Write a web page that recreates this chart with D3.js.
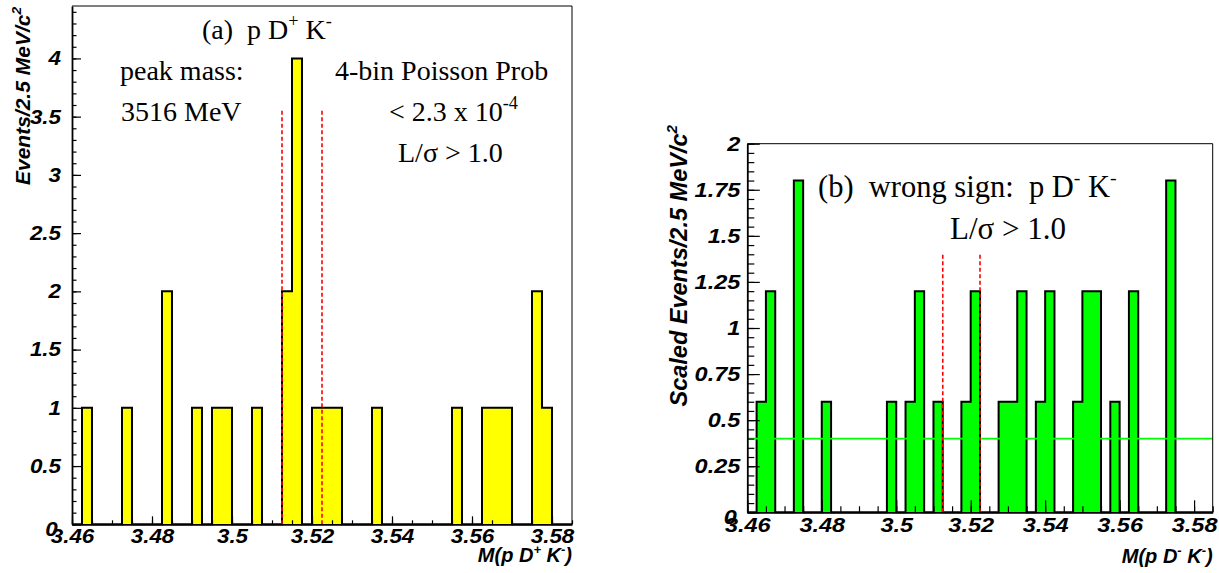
<!DOCTYPE html>
<html><head><meta charset="utf-8">
<script src="https://cdn.jsdelivr.net/npm/d3@7"></script>
<style>
body{margin:0;background:#fff}
svg{display:block}
text{white-space:pre}
</style>
</head><body>
<svg id="c" width="1219" height="573"></svg>
<script>
// ---------------- data ----------------
const binStart = 3.46;
const binWidth = 0.0025;
// (a) right sign p D+ K-  : events per 2.5 MeV bin (50 bins from 3.46)
const countsA = [0,1,0,0,0,1,0,0,0,2, 0,0,1,0,1,1,0,0,1,0,
                 0,2,4,0,1,1,1,0,0,0, 1,0,0,0,0,0,0,0,1,0,
                 0,1,1,1,0,0,2,1,0,0];
// (b) wrong sign p D- K- : scaled events per bin
const countsB = [0,0.6,1.2,0,0,1.8,0,0,0.6,0, 0,0,0,0,0,0.6,0,0.6,1.2,0,
                 0.6,0,0,0.6,1.2,0,0,0.6,0.6,1.2, 0,0.6,1.2,0,0,0.6,1.2,1.2,0,0.6,
                 0,1.2,0,0,0,1.8,0,0,0,0];
const xTickLabels = [3.46,3.48,3.5,3.52,3.54,3.56,3.58];
const yTickLabelsA = [0,0.5,1,1.5,2,2.5,3,3.5,4];
const yTickLabelsB = [0,0.25,0.5,0.75,1,1.25,1.5,1.75,2];
const signalWindow = [3.5125, 3.5225];
const windowTopA = 3.55;
const windowTopB = 1.4;
const backgroundLevelB = 0.4;

const svg = d3.select("#c");
const nBins = countsA.length;
const xMax = binStart + nBins * binWidth;
const labelStretch = 1.12;

function rich(g, x, y, parts, opts) {
  const t = g.append("text").attr("x", x).attr("y", y)
    .attr("font-family", opts.family).attr("font-size", opts.size)
    .attr("font-weight", opts.weight || "normal").attr("font-style", opts.style || "normal")
    .attr("text-anchor", opts.anchor || "start").attr("fill", "#000");
  if (opts.transform) t.attr("transform", opts.transform);
  let shifted = 0;
  parts.forEach(p => {
    const s = t.append("tspan").text(p.t);
    if (p.sup) {
      const d = -opts.size * 0.42;
      s.attr("dy", d - shifted).attr("font-size", opts.size * 0.65);
      shifted = d;
    } else {
      if (shifted !== 0) { s.attr("dy", -shifted); shifted = 0; }
    }
  });
  return t;
}

function panel(cfg) {
  const x = d3.scaleLinear([binStart, xMax], [cfg.left, cfg.right]);
  const y = d3.scaleLinear([0, cfg.yMax], [cfg.bottom, cfg.top]);
  const g = svg.append("g");
  const pts = cfg.counts.map((c, i) => [binStart + i * binWidth, c]);
  pts.push([xMax, 0]);
  // fill
  g.append("path").datum(pts)
    .attr("d", d3.area().x(d => x(d[0])).y0(y(0)).y1(d => y(d[1])).curve(d3.curveStepAfter))
    .attr("fill", cfg.fill).attr("stroke", "none");
  // outline
  const linePts = [[binStart, 0]].concat(pts);
  g.append("path").datum(linePts)
    .attr("d", d3.line().x(d => x(d[0])).y(d => y(d[1])).curve(d3.curveStepAfter))
    .attr("fill", "none").attr("stroke", "#000").attr("stroke-width", 2);
  // background level
  if (cfg.bkg !== undefined) {
    g.append("line").attr("x1", x(binStart)).attr("x2", x(xMax))
      .attr("y1", y(cfg.bkg)).attr("y2", y(cfg.bkg))
      .attr("stroke", "#00ff00").attr("stroke-width", 1.6);
  }
  // signal window
  signalWindow.forEach(v => {
    g.append("line").attr("x1", x(v)).attr("x2", x(v))
      .attr("y1", y(0)).attr("y2", y(cfg.windowTop))
      .attr("stroke", "#ff0000").attr("stroke-width", 1.6)
      .attr("stroke-dasharray", "4,2.5");
  });
  // frame
  g.append("path")
    .attr("d", `M${cfg.left},${cfg.top}H${cfg.right}V${cfg.bottom}`)
    .attr("fill", "none").attr("stroke", "#000").attr("stroke-width", 1);

  const font = "'Liberation Sans', Arial, Helvetica, sans-serif";
  // minor ticks
  const minorX = d3.range(0, 26).map(i => binStart + i * 0.005);
  g.append("g").attr("transform", `translate(0,${cfg.bottom})`)
    .call(d3.axisBottom(x).tickValues(minorX).tickSize(-cfg.xMinor).tickSizeOuter(0).tickFormat(""))
    .call(a => a.select(".domain").remove())
    .selectAll("line").attr("stroke-width", 1.2);
  const minorY = d3.range(0, Math.floor(cfg.yMax / cfg.yMinorStep + 1e-6) + 1).map(i => i * cfg.yMinorStep);
  g.append("g").attr("transform", `translate(${cfg.left},0)`)
    .call(d3.axisLeft(y).tickValues(minorY).tickSize(-cfg.yMinor).tickSizeOuter(0).tickFormat(""))
    .call(a => a.select(".domain").remove())
    .selectAll("line").attr("stroke-width", 1.2);
  // major axes
  const ax = g.append("g").attr("transform", `translate(0,${cfg.bottom})`)
    .call(d3.axisBottom(x).tickValues(xTickLabels).tickSize(-cfg.xMajor).tickSizeOuter(0)
      .tickPadding(cfg.xPad).tickFormat(d3.format("~g")));
  ax.select(".domain").attr("stroke-width", 1.8);
  ax.selectAll("line").attr("stroke-width", 1.2);
  ax.selectAll("text").attr("font-family", font).attr("font-size", cfg.tickSize)
    .attr("font-weight", "bold").attr("font-style", "italic").attr("fill", "#000")
    .attr("transform", `scale(${labelStretch},1)`);
  const ay = g.append("g").attr("transform", `translate(${cfg.left},0)`)
    .call(d3.axisLeft(y).tickValues(cfg.yTicks).tickSize(-cfg.yMajor).tickSizeOuter(0)
      .tickPadding(cfg.yPad).tickFormat(d3.format("~g")));
  ay.select(".domain").attr("stroke-width", 1.8);
  ay.selectAll("line").attr("stroke-width", 1.2);
  ay.selectAll("text").attr("font-family", font).attr("font-size", cfg.tickSize)
    .attr("font-weight", "bold").attr("font-style", "italic").attr("fill", "#000")
    .attr("x", -cfg.yPad / labelStretch)
    .attr("transform", `scale(${labelStretch},1)`);
  ay.selectAll(".tick").filter(d => d === 0).select("text").attr("dy", "0.55em").attr("dx", "-0.15em");
  // axis titles
  rich(g, cfg.right, cfg.xTitleY, cfg.xTitle, {family: font, size: cfg.xTitleSize, weight: "bold", style: "italic", anchor: "end"});
  rich(g, 0, 0, cfg.yTitle, {family: font, size: cfg.yTitleSize, weight: "bold", style: "italic", anchor: "end",
    transform: `translate(${cfg.yTitleX},${cfg.yTitleTop}) rotate(-90)`});
  // annotations
  cfg.notes.forEach(n => rich(g, n.x, n.y, n.parts, {family: "'Liberation Serif', 'Times New Roman', serif", size: n.size, anchor: n.anchor || "start"}));
}

panel({
  left: 72, right: 572, top: 6, bottom: 524.3, yMax: 4.45,
  counts: countsA, fill: "#ffff00", windowTop: windowTopA,
  yTicks: yTickLabelsA, yMinorStep: 0.1,
  xMajor: 8, xMinor: 4, yMajor: 9, yMinor: 4.5, xPad: 5, yPad: 11,
  tickSize: 20, xTitleSize: 20, yTitleSize: 21,
  xTitleY: 562,
  xTitle: [{t: "M(p D"}, {t: "+", sup: true}, {t: " K"}, {t: "-", sup: true}, {t: ")"}],
  yTitleX: 30, yTitleTop: 7,
  yTitle: [{t: "Events/2.5 MeV/c"}, {t: "2", sup: true}],
  notes: [
    {x: 202, y: 39, size: 28, parts: [{t: "(a)  p D"}, {t: "+", sup: true}, {t: " K"}, {t: "-", sup: true}]},
    {x: 120, y: 80, size: 28, parts: [{t: "peak mass:"}]},
    {x: 121, y: 121, size: 28, parts: [{t: "3516 MeV"}]},
    {x: 335, y: 80, size: 28, parts: [{t: "4-bin Poisson Prob"}]},
    {x: 389, y: 121, size: 28, parts: [{t: "< 2.3 x 10"}, {t: "-4", sup: true}]},
    {x: 398, y: 162, size: 28, parts: [{t: "L/σ > 1.0"}]}
  ]
});

panel({
  left: 747.3, right: 1212.7, top: 143.7, bottom: 512.3, yMax: 2,
  counts: countsB, fill: "#00ff00", windowTop: windowTopB, bkg: backgroundLevelB,
  yTicks: yTickLabelsB, yMinorStep: 0.05,
  xMajor: 12, xMinor: 6, yMajor: 12.5, yMinor: 7, xPad: 5, yPad: 7,
  tickSize: 21, xTitleSize: 20, yTitleSize: 23.5,
  xTitleY: 563,
  xTitle: [{t: "M(p D"}, {t: "-", sup: true}, {t: " K"}, {t: "-", sup: true}, {t: ")"}],
  yTitleX: 687, yTitleTop: 125,
  yTitle: [{t: "Scaled Events/2.5 MeV/c"}, {t: "2", sup: true}],
  notes: [
    {x: 818, y: 197, size: 30.5, parts: [{t: "(b)  wrong sign:  p D"}, {t: "-", sup: true}, {t: " K"}, {t: "-", sup: true}]},
    {x: 950, y: 239, size: 31, parts: [{t: "L/σ > 1.0"}]}
  ]
});
</script>
</body></html>
